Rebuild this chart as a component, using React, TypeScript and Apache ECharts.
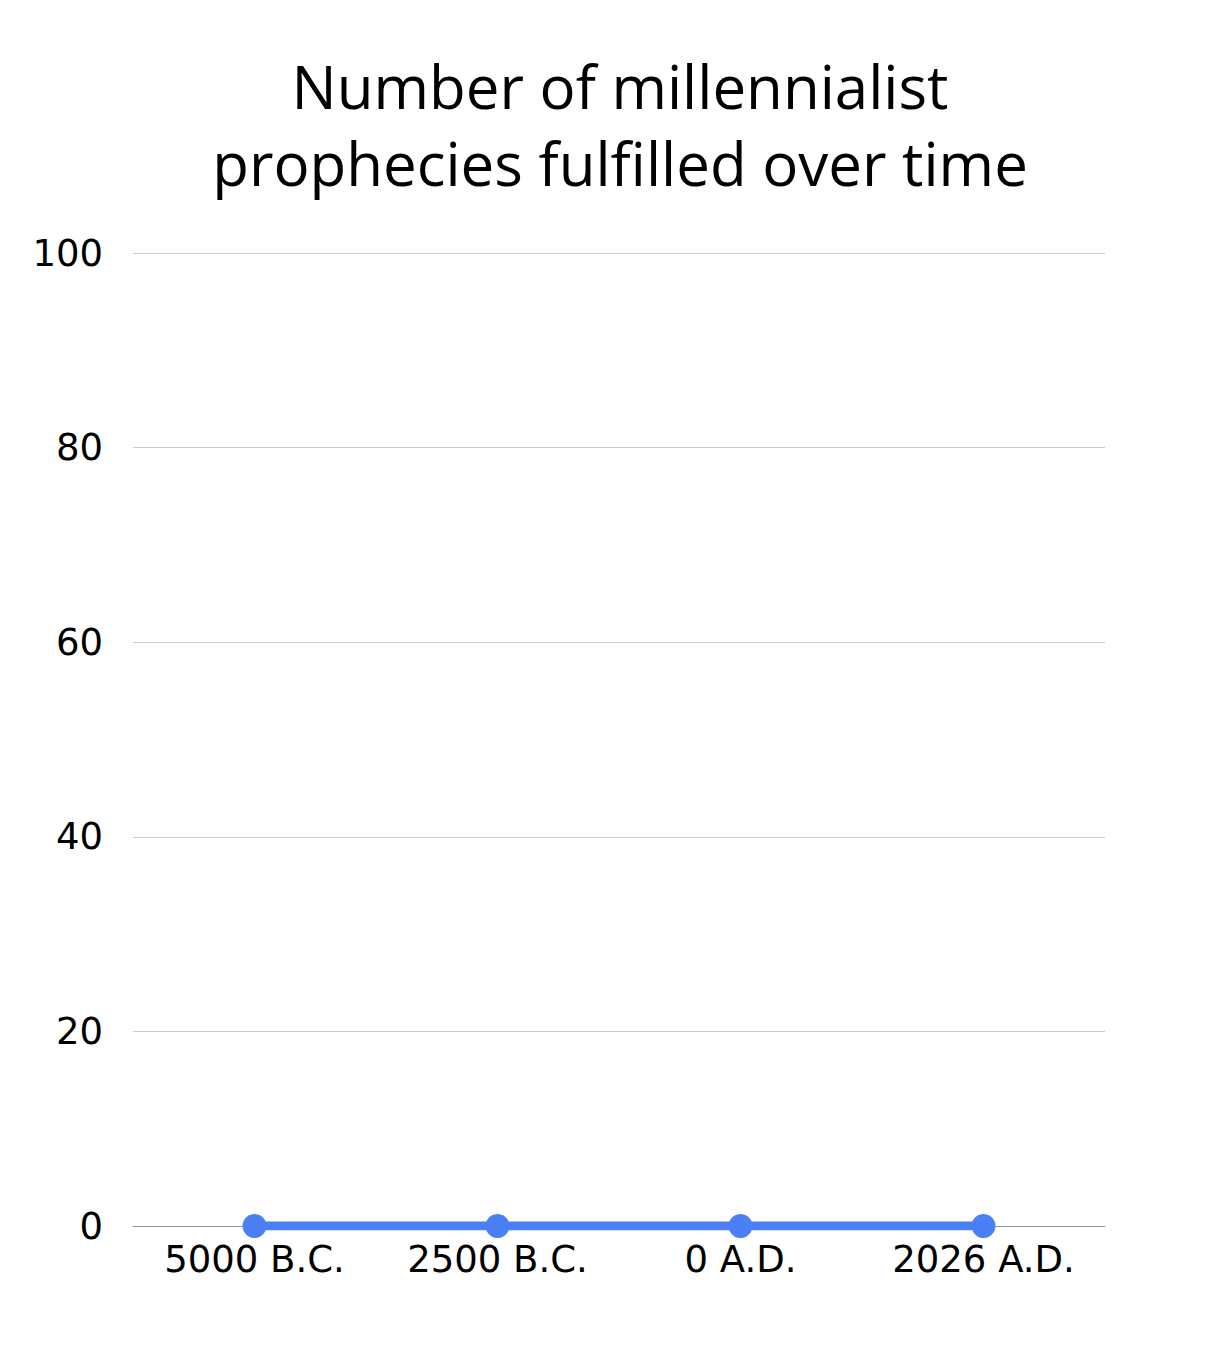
import React, { useEffect, useRef } from "react";
import * as echarts from "echarts";

const categories = ["5000 B.C.", "2500 B.C.", "0 A.D.", "2026 A.D."];
const prophecies = [0, 0, 0, 0];
const titleText = "Number of millennialist\nprophecies fulfilled over time";

export default function App() {
  const ref = useRef<HTMLDivElement>(null);
  useEffect(() => {
    document.body.style.margin = "0";
    const chart = echarts.init(ref.current!, null, { renderer: "svg" });
    const titleFont = "'Open Sans', 'Noto Sans', sans-serif";
    const axisFont = "'DejaVu Sans', sans-serif";
    chart.setOption({
      animation: false,
      backgroundColor: "#ffffff",
      title: {
        text: titleText,
        left: 615,
        textAlign: "center",
        top: 42,
        textStyle: {
          fontFamily: titleFont,
          fontSize: 60,
          fontWeight: "normal",
          color: "#000000",
          lineHeight: 77,
        },
      },
      grid: { left: 133, right: 104, top: 253, bottom: 124, containLabel: false },
      xAxis: {
        type: "category",
        data: categories,
        boundaryGap: true,
        axisLine: { lineStyle: { color: "#999999", width: 1 } },
        axisTick: { show: false },
        axisLabel: { fontFamily: axisFont, fontSize: 37, color: "#000000", margin: 15 },
      },
      yAxis: {
        type: "value",
        min: 0,
        max: 100,
        interval: 20,
        axisLine: { show: false },
        axisTick: { show: false },
        splitLine: { lineStyle: { color: "#cccccc", width: 1 } },
        axisLabel: { fontFamily: axisFont, fontSize: 37, color: "#000000", margin: 30 },
      },
      series: [
        {
          type: "line",
          data: prophecies,
          symbol: "circle",
          symbolSize: 24,
          lineStyle: { color: "#4a7ff5", width: 9 },
          itemStyle: { color: "#4a7ff5" },
        },
      ],
    });
    return () => chart.dispose();
  }, []);
  return <div ref={ref} style={{ width: 1209, height: 1350 }} />;
}
